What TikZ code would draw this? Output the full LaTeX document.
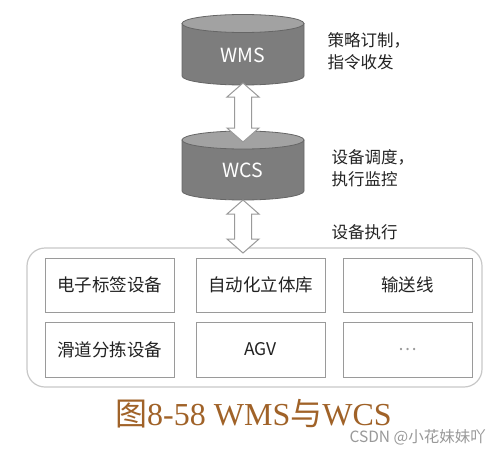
\documentclass[tikz,border=0pt]{standalone}
\usepackage{fontspec}
\setmainfont{Noto Sans CJK SC}
\newfontfamily\cjk{Noto Sans CJK SC}
\newfontfamily\capserif{Liberation Serif}
\usetikzlibrary{calc}
\definecolor{bodyc}{HTML}{7D7D7D}
\definecolor{topc}{HTML}{A2A2A2}
\definecolor{edgec}{HTML}{666666}
\definecolor{boxline}{HTML}{9A9A9A}
\definecolor{contline}{HTML}{C8C8C8}
\definecolor{capc}{RGB}{160,98,40}
\definecolor{txt}{HTML}{222222}
\tikzset{
  cylbody/.style={fill=bodyc, draw=edgec, line width=0.8pt},
  cyltop/.style={fill=topc, draw=edgec, line width=0.8pt},
  cyllabel/.style={text=white, font=\fontsize{19.5}{21}\selectfont},
  sidelabel/.style={anchor=west, align=left, text=txt, font=\fontsize{16.5}{22}\selectfont},
  dev/.style={draw=boxline, line width=1pt, minimum width=129pt, minimum height=54pt, text=txt, font=\fontsize{17.5}{20}\selectfont},
  container/.style={draw=contline, line width=1.2pt, rounded corners=18pt},
  arr/.style={draw=boxline, fill=white, line width=1pt, line join=miter},
}
\begin{document}
\begin{tikzpicture}[x=1pt,y=1pt]
\useasboundingbox (0,0) rectangle (500,451);
\fill[white] (0,0) rectangle (500,451);

% container
\draw[container] (27,64) rectangle (482,203);

% WMS cylinder
\path[cylbody] (182,427.5) -- (182,375) arc[start angle=180,end angle=360,x radius=61,y radius=9] -- (304,427.5) -- cycle;
\draw[cyltop] (243,427.5) ellipse[x radius=61,y radius=9];
\node[cyllabel] (wms) at (243,396) {WMS};

% WCS cylinder
\path[cylbody] (182,311) -- (182,260) arc[start angle=180,end angle=360,x radius=61,y radius=9] -- (304,311) -- cycle;
\draw[cyltop] (243,311) ellipse[x radius=61,y radius=9];
\node[cyllabel] (wcs) at (243,281) {WCS};

% arrow end points
\coordinate (a1) at (243,368);
\coordinate (a2) at (243,309);
\coordinate (b1) at (243,251);
\coordinate (b2) at (243,198);

\draw[arr] (a1) -- ++(16,-14) -- ++(-7.5,0) -- ([xshift=8.5pt,yshift=14pt]a2) -- ++(7.5,0) -- (a2) -- ++(-16,14) -- ++(7.5,0) -- ([xshift=-8.5pt,yshift=-14pt]a1) -- ++(-7.5,0) -- cycle;
\draw[arr] (b1) -- ++(16,-14) -- ++(-7.5,0) -- ([xshift=8.5pt,yshift=14pt]b2) -- ++(7.5,0) -- (b2) -- ++(-16,14) -- ++(7.5,0) -- ([xshift=-8.5pt,yshift=-14pt]b1) -- ++(-7.5,0) -- cycle;

% side labels
\node[sidelabel] (l1) at (324,400) {策略订制，\\指令收发};
\node[sidelabel] (l2) at (328,282.5) {设备调度，\\执行监控};
\node[sidelabel] (l3) at (328,219) {设备执行};

% device boxes
\node[dev] (d1) at (109.5,166) {电子标签设备};
\node[dev] (d2) at (260.5,166) {自动化立体库};
\node[dev] (d3) at (407.5,166) {输送线};
\node[dev, minimum height=55pt] (d4) at (109.5,101.5) {滑道分拣设备};
\node[dev, minimum height=55pt] (d5) at (260.5,101.5) {AGV};
\node[dev, minimum height=55pt, text=boxline] (d6) at (407.5,101.5) {…};

% caption
\node[anchor=base west, inner sep=0pt, text=capc, font=\fontsize{32}{34}\selectfont] (cap) at (115,26) {{\cjk 图}{\capserif 8-58 WMS}{\cjk 与}{\capserif WCS}};
\node[anchor=east, inner sep=0pt, text=black!40, font=\fontsize{15.5}{17}\selectfont] (wm) at (486,14) {CSDN @小花妹妹吖};
\end{tikzpicture}
\end{document}
